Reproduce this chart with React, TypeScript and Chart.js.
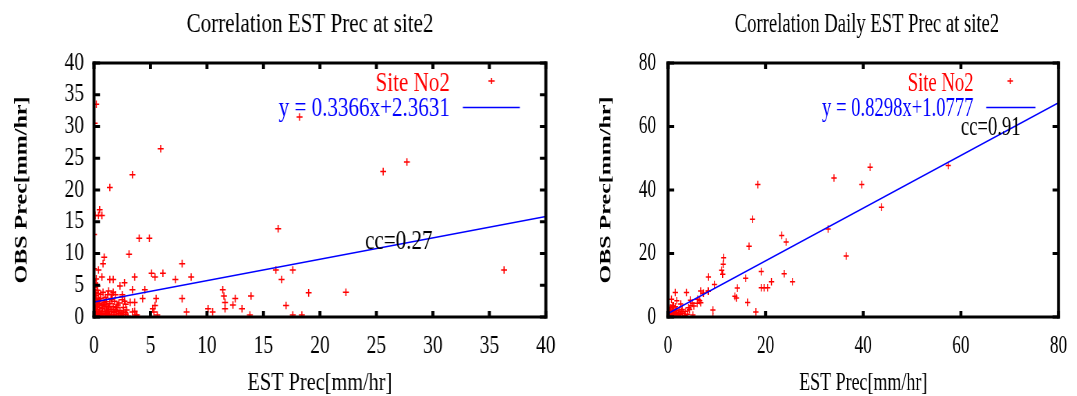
import React, { useEffect, useRef } from "react";
import { Chart, registerables } from "chart.js";

Chart.register(...registerables);

// ---------------- data ----------------
const leftTitle = "Correlation EST Prec at site2";
const rightTitle = "Correlation Daily EST Prec at site2";
const xAxisTitle = "EST Prec[mm/hr]";
const yAxisTitle = "OBS Prec[mm/hr]";
const seriesName = "Site No2";

const leftTicks = [0, 5, 10, 15, 20, 25, 30, 35, 40];
const rightTicks = [0, 20, 40, 60, 80];

const leftX = [
  0.2, 0.06, 5.9, 3.4, 1.4, 0.5, 0.1, 0.4, 0.7, 0.0, 4.0, 4.9, 3.1, 0.9, 0.8, 0.0, 0.4, 7.8, 5.1, 5.4,
  6.1, 3.6, 0.7, 1.4, 1.7, 7.2, 8.6, 2.7, 2.3, 1.3, 2.5, 1.2, 3.4, 4.5, 5.5, 4.3, 7.8, 8.2, 11.4, 11.5,
  11.6, 11.6, 12.5, 12.3, 13.1, 10.1, 10.5, 13.9, 13.8, 16.3, 16.1, 17.6, 16.6, 17.0, 17.6, 18.4, 19.0, 18.2, 25.6, 27.7,
  36.3, 22.3, 5.2, 5.4, 5.3, 5.6, 3.2, 3.6, 3.4, 3.7, 0.0, 0.0, 0.0, 0.0, 0.0, 0.0, 0.0, 0.0, 0.3, 0.4,
  1.6, 1.7, 2.5, 3.6, 3.8,
  0.2, 0.4, 0.6, 0.8, 1.0, 1.2, 1.4, 1.6, 1.8, 2.0, 2.2, 2.4, 2.6, 2.8, 3.0, 0.3, 0.5, 0.7, 0.9, 1.1,
  1.3, 1.5, 1.7, 1.9, 2.1, 2.3, 2.6, 2.9, 0.2, 0.5, 0.8, 1.1, 1.4, 1.8, 2.2, 2.5, 0.1, 0.6, 1.0, 0.15,
  0.35, 0.05, 0.25, 0.45, 0.65, 1.2, 1.0, 2.0, 0.1,
  0.05, 0.15, 0.25, 0.35, 0.55, 0.75, 0.95, 1.15, 1.35, 1.55, 1.75, 1.95, 2.15, 2.35, 2.55, 2.75, 0.1, 0.3, 0.5, 0.7,
  0.9, 1.3, 1.6, 2.0, 2.4, 2.8, 0.2, 0.6, 1.0, 1.5, 0.05, 0.1, 0.2, 0.3, 0.15, 0.4, 0.8, 1.25, 1.9, 2.7,
];
const leftY = [
  33.5, 30.5, 26.5, 22.4, 20.4, 16.9, 16.0, 16.0, 16.0, 13.0, 12.4, 12.4, 9.9, 9.4, 8.4, 7.6, 7.4, 8.4, 6.9, 6.3,
  6.9, 6.3, 6.3, 5.9, 5.9, 5.9, 6.3, 5.4, 4.9, 4.1, 3.5, 3.5, 4.3, 4.3, 2.9, 2.9, 2.9, 0.8, 4.3, 3.3,
  2.3, 1.3, 2.9, 1.9, 1.3, 1.3, 0.8, 3.3, 0.3, 13.9, 7.4, 7.4, 5.9, 1.8, 0.3, 0.3, 3.8, 31.5, 22.9, 24.4,
  7.4, 3.9, 1.3, 1.8, 0.8, 0.3, 2.3, 2.3, 0.8, 0.3, 5.8, 5.0, 4.2, 3.3, 2.5, 1.8, 1.0, 0.4, 4.2, 3.7,
  3.6, 3.9, 3.2, 0.9, 0.3,
  0.2, 0.5, 0.1, 0.3, 0.6, 0.2, 0.4, 0.1, 0.7, 0.3, 0.5, 0.2, 0.8, 0.4, 0.1, 1.2, 1.5, 0.9, 1.7, 1.1,
  1.4, 0.9, 1.6, 1.2, 1.9, 1.0, 1.5, 1.1, 2.2, 2.6, 2.0, 2.4, 2.1, 2.5, 2.2, 2.7, 3.0, 2.9, 3.1, 0.8,
  0.05, 0.3, 1.6, 2.1, 0.5, 0.9, 0.0, 0.0, 0.1,
  0.6, 0.9, 0.3, 1.9, 0.2, 1.3, 0.4, 0.7, 0.1, 1.2, 0.3, 0.9, 0.6, 0.2, 0.4, 0.7, 1.4, 2.4, 0.8, 1.8,
  2.3, 0.3, 2.8, 1.5, 0.6, 2.0, 3.4, 3.6, 1.9, 2.9, 4.6, 5.3, 6.0, 4.9, 3.8, 2.7, 3.9, 1.6, 3.5, 2.5,
];

const rightX = [
  34.0, 39.7, 18.4, 17.3, 32.8, 23.3, 24.2, 16.6, 36.5, 11.4, 11.3, 11.0, 11.2, 8.3, 19.1, 23.8, 25.5, 21.2, 19.1, 19.7,
  20.4, 15.9, 14.2, 13.7, 14.0, 16.3, 18.0, 9.5, 8.2, 6.7, 7.3, 9.2, 9.2, 5.1, 6.1, 6.7, 3.8, 1.5, 5.3, 4.2,
  4.4, 2.6, 1.8, 0.7, 1.1, 0.5, 3.1, 3.4, 2.7, 2.3, 41.4, 43.7, 57.4, 4.7, 5.0, 4.6, 6.5, 6.0, 8.3, 7.2,
  0.4, 0.9, 2.9,
  0.2, 0.5, 0.8, 1.1, 1.4, 0.3, 0.1, 1.8, 0.6, 1.2, 2.0, 0.9, 1.6,
  0.3, 0.6, 1.0, 1.3, 1.7, 2.1, 2.5, 0.15, 0.45, 0.8, 1.5, 2.2, 0.05, 3.6, 4.0,
];
const rightY = [
  43.8, 41.7, 41.7, 30.8, 27.7, 25.7, 23.6, 22.3, 19.2, 18.7, 16.6, 14.7, 13.5, 12.6, 14.3, 13.6, 11.1, 11.1, 9.2, 9.2,
  9.2, 12.2, 9.1, 6.5, 6.0, 4.6, 1.6, 10.2, 8.2, 8.2, 7.5, 2.2, 0.1, 0.6, 5.6, 4.5, 7.7, 7.7, 3.5, 2.9,
  2.4, 4.1, 5.1, 5.6, 3.5, 2.9, 1.2, 0.4, 1.7, 2.2, 47.2, 34.6, 47.7, 3.6, 4.3, 5.3, 5.1, 4.3, 8.1, 7.5,
  2.2, 3.5, 2.4,
  0.3, 0.8, 0.2, 1.0, 0.5, 1.5, 0.1, 0.9, 1.2, 1.8, 0.4, 0.6, 1.4,
  0.6, 0.3, 1.6, 0.2, 2.0, 1.2, 0.7, 2.6, 1.9, 3.0, 3.2, 0.8, 1.0, 1.8, 0.9,
];

const leftFit = [0.3366, 2.3631]; // slope, intercept
const rightFit = [0.8298, 1.0777];
const leftCC = "cc=0.27";
const rightCC = "cc=0.91";
const leftCCAt = [24.0, 10.7];
const rightCCAt = [60.0, 57.3];

// ---------------- layout ----------------
const FONT = "'Liberation Serif', 'Times New Roman', serif";
const H = 396;

type Spec = {
  k: number; // horizontal condensing of the panel
  realLeft: number;
  realWidth: number;
  title: string;
  xs: number[];
  ys: number[];
  ticks: number[];
  fit: number[];
  cc: string;
  ccAt: number[];
  yAxisW: number;
  rightPad: number;
  yLabelPad: number;
  yTitlePad: number;
  titleCx: number;
  legTextR: number;
  legMarkR: number;
  legLine: number[];
};

function makeConfig(s: Spec): any {
  const K = s.k;
  const max = s.ticks[s.ticks.length - 1];
  const step = s.ticks[1] - s.ticks[0];
  const pts = s.xs.map((x, i) => ({ x, y: s.ys[i] }));
  const line = [
    { x: s.ticks[0], y: s.fit[0] * s.ticks[0] + s.fit[1] },
    { x: max, y: s.fit[0] * max + s.fit[1] },
  ];

  const deco = {
    id: "deco",
    afterDraw(chart: any) {
      const ctx = chart.ctx;
      const a = chart.chartArea;
      const xs = chart.scales.x;
      const ys = chart.scales.y;
      const hw = 3.0; // horizontal line width (real px)
      const vw = 3.0 / K; // vertical line width in unscaled px
      ctx.save();
      ctx.strokeStyle = "#000";
      ctx.lineCap = "butt";
      ctx.lineWidth = hw;
      ctx.beginPath();
      ctx.moveTo(a.left - vw / 2, a.top);
      ctx.lineTo(a.right + vw / 2, a.top);
      ctx.moveTo(a.left - vw / 2, a.bottom);
      ctx.lineTo(a.right + vw / 2, a.bottom);
      ctx.stroke();
      ctx.lineWidth = vw;
      ctx.beginPath();
      ctx.moveTo(a.left, a.top - hw / 2);
      ctx.lineTo(a.left, a.bottom + hw / 2);
      ctx.moveTo(a.right, a.top - hw / 2);
      ctx.lineTo(a.right, a.bottom + hw / 2);
      ctx.stroke();
      // inward ticks on all four sides
      const tl = 6;
      ctx.lineWidth = vw;
      ctx.beginPath();
      s.ticks.forEach((v) => {
        const px = xs.getPixelForValue(v);
        ctx.moveTo(px, a.bottom);
        ctx.lineTo(px, a.bottom - tl);
        ctx.moveTo(px, a.top);
        ctx.lineTo(px, a.top + tl);
      });
      ctx.stroke();
      ctx.lineWidth = hw;
      ctx.beginPath();
      s.ticks.forEach((v) => {
        const py = ys.getPixelForValue(v);
        ctx.moveTo(a.left, py);
        ctx.lineTo(a.left + tl / K, py);
        ctx.moveTo(a.right, py);
        ctx.lineTo(a.right - tl / K, py);
      });
      ctx.stroke();

      // title
      ctx.fillStyle = "#000";
      ctx.font = `27px ${FONT}`;
      ctx.textAlign = "center";
      ctx.textBaseline = "alphabetic";
      ctx.fillText(s.title, s.titleCx, 32);

      // legend
      ctx.font = `27px ${FONT}`;
      ctx.textAlign = "right";
      ctx.fillStyle = "#ff0000";
      ctx.fillText(seriesName, a.right - s.legTextR, 90.5);
      const mx = a.right - s.legMarkR;
      const my = 81;
      ctx.strokeStyle = "#ff0000";
      ctx.lineWidth = 1.6;
      ctx.beginPath();
      ctx.moveTo(mx - 4, my);
      ctx.lineTo(mx + 4, my);
      ctx.moveTo(mx, my - 3);
      ctx.lineTo(mx, my + 3);
      ctx.stroke();
      ctx.fillStyle = "#0000ff";
      const eq = `y = ${s.fit[0].toFixed(4)}x+${s.fit[1].toFixed(4)}`;
      ctx.fillText(eq, a.right - s.legTextR, 116);
      ctx.strokeStyle = "#0000ff";
      ctx.lineWidth = 1.4;
      ctx.beginPath();
      ctx.moveTo(a.right - s.legLine[0], 107.5);
      ctx.lineTo(a.right - s.legLine[1], 107.5);
      ctx.stroke();

      // correlation coefficient
      ctx.fillStyle = "#000";
      ctx.textAlign = "left";
      ctx.fillText(s.cc, xs.getPixelForValue(s.ccAt[0]), ys.getPixelForValue(s.ccAt[1]));
      ctx.restore();
    },
  };

  return {
    type: "scatter",
    data: {
      datasets: [
        {
          label: seriesName,
          data: pts,
          pointStyle: "cross",
          pointRadius: 3.8,
          pointBorderWidth: 1.5,
          borderColor: "#ff0000",
          backgroundColor: "#ff0000",
          showLine: false,
          order: 2,
        },
        {
          label: "fit",
          data: line,
          showLine: true,
          pointRadius: 0,
          borderColor: "#0000ff",
          borderWidth: 1.6,
          fill: false,
          order: 1,
        },
      ],
    },
    options: {
      responsive: false,
      animation: false,
      events: [],
      layout: { padding: { left: 0, right: s.rightPad, top: 63, bottom: 0 } },
      plugins: {
        legend: { display: false },
        title: { display: false },
        tooltip: { enabled: false },
      },
      scales: {
        x: {
          type: "linear",
          position: "bottom",
          min: s.ticks[0],
          max,
          grid: { display: false, drawTicks: false },
          border: { display: false },
          ticks: {
            stepSize: step,
            autoSkip: false,
            color: "#000",
            padding: 14,
            maxRotation: 0,
            font: { family: FONT, size: 25 },
          },
          title: {
            display: true,
            text: xAxisTitle,
            color: "#000",
            font: { family: FONT, size: 26, lineHeight: 1 },
            padding: 0,
          },
          afterFit: (sc: any) => {
            sc.height = H - 317;
          },
        },
        y: {
          type: "linear",
          position: "left",
          min: s.ticks[0],
          max,
          grid: { display: false, drawTicks: false },
          border: { display: false },
          ticks: {
            stepSize: step,
            autoSkip: false,
            color: "#000",
            padding: s.yLabelPad,
            font: { family: FONT, size: 25 },
          },
          title: {
            display: true,
            text: yAxisTitle,
            color: "#000",
            font: { family: FONT, size: 24, weight: "bold", lineHeight: 1.2 },
            padding: { top: s.yTitlePad, bottom: 0 },
          },
          afterFit: (sc: any) => {
            sc.width = s.yAxisW;
          },
        },
      },
    },
    plugins: [deco],
  };
}

// real-pixel geometry converted into each panel's unscaled coordinates
function buildSpec(base: {
  k: number;
  realLeft: number;
  realRight: number;
  plotL: number;
  plotR: number;
  yLabR: number;
  yTitleC: number;
  titleC: number;
  legTextR: number;
  legMarkR: number;
  legLine: number[];
  title: string;
  xs: number[];
  ys: number[];
  ticks: number[];
  fit: number[];
  cc: string;
  ccAt: number[];
}): Spec {
  const k = base.k;
  const u = (real: number) => (real - base.realLeft) / k;
  const width = (base.realRight - base.realLeft) / k;
  const yAxisW = u(base.plotL);
  return {
    k,
    realLeft: base.realLeft,
    realWidth: width,
    title: base.title,
    xs: base.xs,
    ys: base.ys,
    ticks: base.ticks,
    fit: base.fit,
    cc: base.cc,
    ccAt: base.ccAt,
    yAxisW,
    rightPad: width - u(base.plotR),
    yLabelPad: yAxisW - u(base.yLabR),
    yTitlePad: u(base.yTitleC) - 14.4,
    titleCx: u(base.titleC),
    legTextR: base.legTextR / k,
    legMarkR: base.legMarkR / k,
    legLine: base.legLine.map((v) => v / k),
  };
}

const leftSpec = buildSpec({
  k: 0.78,
  realLeft: 0,
  realRight: 568,
  plotL: 94,
  plotR: 546,
  yLabR: 84,
  yTitleC: 22,
  titleC: 310,
  legTextR: 96,
  legMarkR: 54.3,
  legLine: [83, 26],
  title: leftTitle,
  xs: leftX,
  ys: leftY,
  ticks: leftTicks,
  fit: leftFit,
  cc: leftCC,
  ccAt: leftCCAt,
});

const rightSpec = buildSpec({
  k: 0.69,
  realLeft: 580,
  realRight: 1077,
  plotL: 668,
  plotR: 1064,
  yLabR: 656,
  yTitleC: 606,
  titleC: 867,
  legTextR: 85,
  legMarkR: 48.3,
  legLine: [72.3, 23],
  title: rightTitle,
  xs: rightX,
  ys: rightY,
  ticks: rightTicks,
  fit: rightFit,
  cc: rightCC,
  ccAt: rightCCAt,
});

function Panel({ spec }: { spec: Spec }) {
  const ref = useRef<HTMLCanvasElement>(null);
  const w = Math.round(spec.realWidth);
  useEffect(() => {
    const chart = new Chart(ref.current as HTMLCanvasElement, makeConfig(spec));
    return () => chart.destroy();
  }, [spec]);
  return (
    <div
      style={{
        position: "absolute",
        left: spec.realLeft,
        top: 0,
        width: w,
        height: H,
        transform: `scaleX(${spec.k})`,
        transformOrigin: "0 0",
      }}
    >
      <canvas ref={ref} width={w} height={H} style={{ display: "block", width: w, height: H }} />
    </div>
  );
}

export default function App() {
  return (
    <div
      style={{
        position: "absolute",
        left: 0,
        top: 0,
        width: 1077,
        height: H,
        overflow: "hidden",
        background: "#fff",
      }}
    >
      <Panel spec={leftSpec} />
      <Panel spec={rightSpec} />
    </div>
  );
}
